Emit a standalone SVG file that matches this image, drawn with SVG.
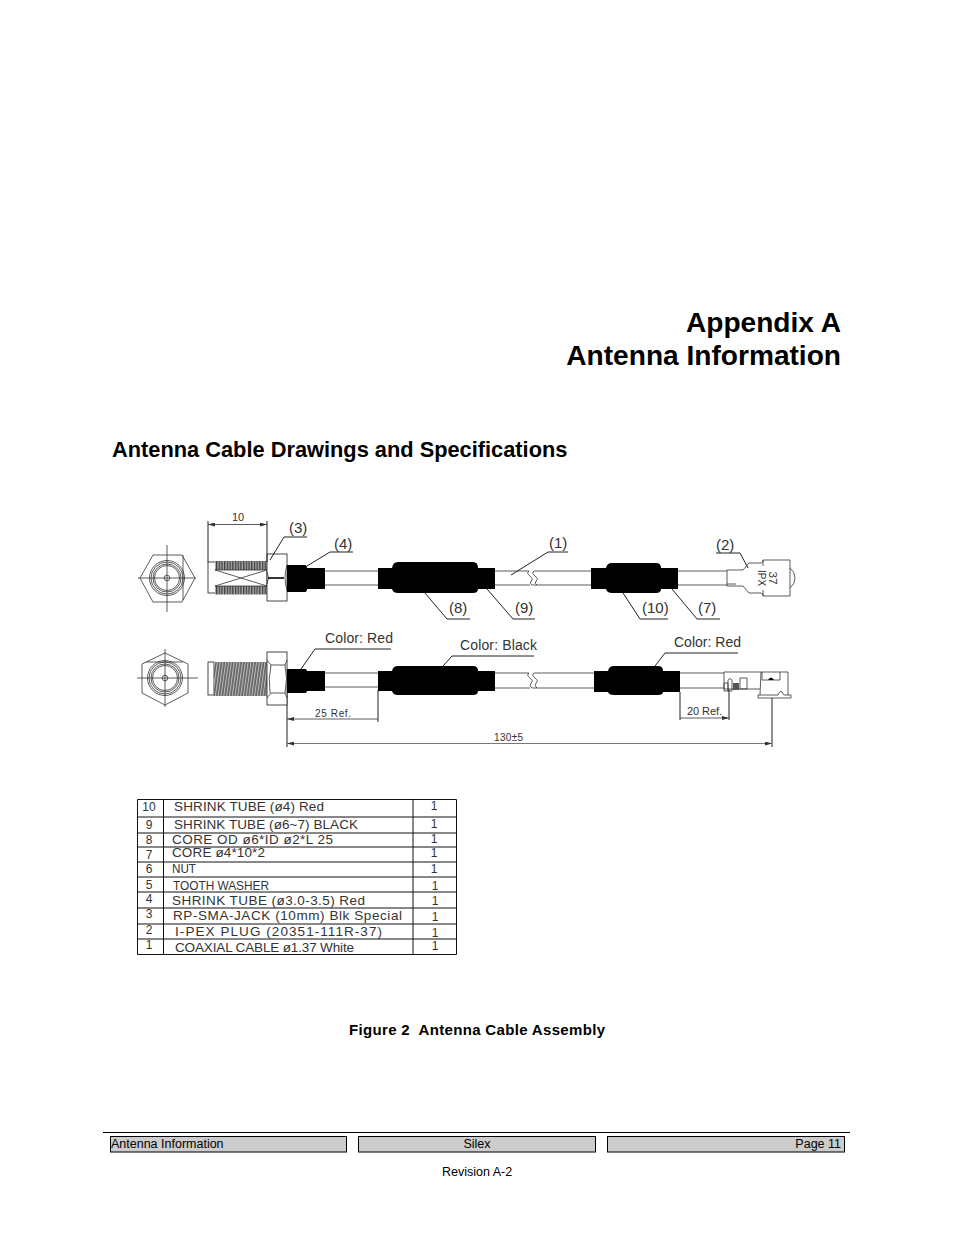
<svg xmlns="http://www.w3.org/2000/svg" width="954" height="1235" viewBox="0 0 954 1235">
<style>
text{font-family:"Liberation Sans",Arial,sans-serif;fill:#000}
.h1{font-size:28.100px;font-weight:bold;text-anchor:end}
.h2{font-size:21.800px;font-weight:bold}
.cap{font-size:15px;font-weight:bold}
.ft{font-size:12.500px}
.c{text-anchor:middle}
.e{text-anchor:end}
.cad{font-size:15px;fill:#333}
.col{font-size:14px;fill:#333}
.sm{font-size:10px;fill:#333}
.n{font-size:12px;fill:#333;text-anchor:middle}
.tb{font-size:13.500px;fill:#333}
.l{fill:none;stroke:#222;stroke-width:1}
.t{fill:none;stroke:#333;stroke-width:.8}
.w{fill:#fff;stroke:#333;stroke-width:.9}
.k{fill:#000;stroke:none}
.g{fill:#ccc;stroke:#000;stroke-width:1}
.d{fill:none;stroke:#333;stroke-width:.8;marker-start:url(#as);marker-end:url(#ae)}
.row{stroke:#111;stroke-width:1;fill:none}
</style>
<defs>
<marker id="ae" markerWidth="8" markerHeight="4" refX="7" refY="2" orient="auto" markerUnits="userSpaceOnUse"><path d="M0 0L7 2L0 4z" fill="#333"/></marker>
<marker id="as" markerWidth="8" markerHeight="4" refX="0" refY="2" orient="auto" markerUnits="userSpaceOnUse"><path d="M7 0L0 2L7 4z" fill="#333"/></marker>
<pattern id="th" width="2.700" height="40" patternUnits="userSpaceOnUse"><rect width="2.700" height="40" fill="#aaa"/><path d="M0.700 0V40" stroke="#333" stroke-width="1.200"/></pattern>
<pattern id="th2" width="2.800" height="40" patternUnits="userSpaceOnUse" patternTransform="skewX(-8)"><rect width="2.800" height="40" fill="#bbb"/><path d="M1 0V40" stroke="#333" stroke-width="1.100"/></pattern>
</defs>

<g id="headings">
<text class="h1" x="841" y="332">Appendix A</text>
<text class="h1" x="841" y="365">Antenna Information</text>
<text class="h2" x="112" y="457">Antenna Cable Drawings and Specifications</text>
</g>

<g id="top-front-view">
<path class="t" d="M140 578L153 555H182L195 578L182 602H153Z"/>
<circle class="t" cx="167" cy="578" r="17.500"/><circle class="t" cx="167" cy="578" r="16"/><circle class="t" cx="167" cy="578" r="14"/><circle class="t" cx="167" cy="578" r="12.500"/><circle class="t" cx="167" cy="578" r="2.800"/>
<path class="t" d="M167 545V612M138 578H196M183 555V600"/>
</g>

<g id="top-connector">
<rect class="w" x="208" y="562" width="59" height="31"/>
<rect x="215" y="561" width="52" height="9" fill="url(#th)"/>
<rect x="215" y="586" width="52" height="8.500" fill="url(#th)"/>
<path class="t" d="M215 570L267 586M215 586L267 570M215 570H267M215 586H267"/>
<rect class="w" x="267" y="554" width="20" height="47"/>
<path class="t" d="M267 572Q270 578 267 584M287 565Q283 578 287 590"/>
<path d="M268 578H284" stroke="#000" stroke-width="1.600"/>
</g>

<g id="top-cable">
<path class="k" d="M287 565H305Q307 565 307 568H325V589H307Q307 592 305 592H287Z"/>
<path class="t" d="M325 571H378M325 585H378"/>
<path class="t" d="M495 571H529Q526 573 530 576Q534 579 531 581Q529 584 532 585H591M495 585H530M534 571Q531 573 535 576Q539 579 536 581Q534 584 537 585M534 571H591"/>
<path class="k" d="M378 568H392Q393 562 398 562H473Q478 562 478 568H495V589H478Q478 593 473 593H398Q393 593 392 589H378Z"/>
<path class="k" d="M591 568H606Q607 563 612 563H656Q661 563 661 568H678V589H661Q661 593 656 593H612Q607 593 606 589H591Z"/>
<path class="t" d="M678 571H727M678 585H727"/>
</g>

<g id="top-plug">
<path class="t" d="M727 570V586M727 570H743L749 563H761Q764 562 763 560H790V596H763Q764 594 761 593H749L743 586H727M727 584H736M763 560V566M763 590V596M790 568Q795 572 795 578Q795 584 790 588"/>
<text class="sm" transform="translate(769 578) rotate(90)" text-anchor="middle" textLength="13" lengthAdjust="spacingAndGlyphs" style="font-size:11px">37</text>
<text class="sm" transform="translate(758 578) rotate(90)" text-anchor="middle" textLength="16" lengthAdjust="spacingAndGlyphs" style="font-size:11px">IPX</text>
</g>

<g id="connectors">
<path class="l" d="M208 562V521M267 562V521"/>
<path class="d" d="M208 524.500H267"/>
<path class="l" d="M270 560L284 537H307M307 566L330 552H353M425 593L447 619H470M487 589L513 619H535M511 575L548 552H568M623 593L640 619H668M672 589L697 619H720M716 553H740L748 568"/>
<path class="l" d="M301 669L315 649H391M443 666L452 656H534M655 666L665 653H738"/>
<path class="l" d="M287 693V747M378 690V722M680 692V720M729 689V720M772 698V747"/>
<path class="d" d="M287 719H378M680 718H729"/>
<path class="d" d="M287 743.500H772" style="stroke-width:1.200;stroke:#777"/>
</g>

<g id="bottom-front-view">
<path class="t" d="M165 653L188 664V693L165 705L142 693V664Z"/>
<circle class="t" cx="165" cy="678" r="17.500"/><circle class="t" cx="165" cy="678" r="16"/><circle class="t" cx="165" cy="678" r="14"/><circle class="t" cx="165" cy="678" r="12.500"/><circle class="t" cx="165" cy="678" r="2.800"/>
<path class="t" d="M165 649V707M137 678H198M146 662H183"/>
</g>

<g id="bottom-connector">
<rect class="w" x="208" y="662" width="6" height="33"/>
<rect x="214" y="662" width="53" height="34" fill="url(#th2)"/>
<rect class="w" x="267" y="652" width="20" height="53"/>
<path class="t" d="M267 660L271 665H285L287 660M271 665Q268 678 270 693M285 665Q288 678 285 693M267 698L271 693H285L287 698"/>
</g>

<g id="bottom-cable">
<path class="k" d="M287 669H305Q307 669 307 671H325V691H307Q307 693 305 693H287Z"/>
<path class="t" d="M325 673H378M325 687H378"/>
<path class="t" d="M495 673H529Q526 675 530 678Q534 681 531 683Q529 686 532 688H594M495 688H530M534 673Q531 675 535 678Q539 681 536 683Q534 686 537 688M534 673H594"/>
<path class="k" d="M378 671H392Q393 666 398 666H473Q478 666 478 671H495V691H478Q478 695 473 695H398Q393 695 392 691H378Z"/>
<path class="k" d="M594 671H608Q609 666 614 666H658Q663 666 663 671H680V692H663Q663 695 658 695H614Q609 695 608 692H594Z"/>
<path class="t" d="M680 673H724M680 688H724"/>
</g>

<g id="bottom-plug">
<path class="t" d="M724 672H788V695M724 672V689H760M761 672L760 695M762 672V680H780V672M758 695H778Q780 690 782 692Q784 696 785 695H791V698H758Z"/>
<path class="t" d="M724 683H728V691H724ZM728 680Q730 677 732 680V691H728ZM740 678H747V689H740Z"/>
<rect x="733" y="683" width="6" height="7" fill="#555"/>
<path class="k" d="M768 680Q771 675 774 680Z"/>
</g>

<g id="drawing-labels">
<text class="sm c" x="238" y="521" style="font-size:11px">10</text>
<text class="cad" x="289" y="533">(3)</text>
<text class="cad" x="334" y="549">(4)</text>
<text class="cad" x="449" y="613">(8)</text>
<text class="cad" x="515" y="613">(9)</text>
<text class="cad" x="549" y="548">(1)</text>
<text class="cad" x="642" y="613">(10)</text>
<text class="cad" x="698" y="613">(7)</text>
<text class="cad" x="716" y="550">(2)</text>
<text class="col" x="325" y="643" textLength="68">Color:  Red</text>
<text class="col" x="460" y="650" textLength="77">Color:  Black</text>
<text class="col" x="674" y="647" textLength="67">Color:  Red</text>
<text class="sm" x="315" y="717" textLength="36">25 Ref.</text>
<text class="sm" x="687" y="715" textLength="35" style="font-size:11px">20 Ref.</text>
<text class="sm" x="494" y="741" textLength="29">130±5</text>
</g>

<g id="parts-table">
<path class="row" d="M137.500 799.500H456.500V954.500H137.500ZM163.500 799.500V954.500M413 799.500V954.500M137 817H457M137 833H457M137 847H457M137 862H457M137 877H457M137 892H457M137 908H457M137 924H457M137 939H457"/>
<g>
<text class="n" x="149" y="811">10</text><text class="tb" x="174" y="811" textLength="150">SHRINK TUBE (ø4) Red</text><text class="n" x="434" y="810">1</text>
<text class="n" x="149" y="829">9</text><text class="tb" x="174" y="829" textLength="184">SHRINK TUBE (ø6~7) BLACK</text><text class="n" x="434" y="828">1</text>
<text class="n" x="149" y="844">8</text><text class="tb" x="172" y="844" textLength="161">CORE OD ø6*ID ø2*L 25</text><text class="n" x="434" y="843">1</text>
<text class="n" x="149" y="859">7</text><text class="tb" x="172" y="857" textLength="93">CORE ø4*10*2</text><text class="n" x="434" y="857">1</text>
<text class="n" x="149" y="873">6</text><text class="tb" x="172" y="873" textLength="24" lengthAdjust="spacingAndGlyphs">NUT</text><text class="n" x="434" y="873">1</text>
<text class="n" x="149" y="889">5</text><text class="tb" x="173" y="890" textLength="96" lengthAdjust="spacingAndGlyphs">TOOTH WASHER</text><text class="n" x="435" y="890">1</text>
<text class="n" x="149" y="903">4</text><text class="tb" x="172" y="905" textLength="193">SHRINK TUBE (ø3.0-3.5) Red</text><text class="n" x="435" y="905">1</text>
<text class="n" x="149" y="918">3</text><text class="tb" x="173" y="920" textLength="229">RP-SMA-JACK (10mm) Blk Special</text><text class="n" x="435" y="921">1</text>
<text class="n" x="149" y="934">2</text><text class="tb" x="175" y="936" textLength="207">I-PEX PLUG (20351-111R-37)</text><text class="n" x="435" y="937">1</text>
<text class="n" x="149" y="949">1</text><text class="tb" x="175" y="952" textLength="179">COAXIAL CABLE ø1.37 White</text><text class="n" x="435" y="950">1</text>
</g>
</g>

<text class="cap" x="349" y="1035" textLength="256" style="white-space:pre">Figure 2  Antenna Cable Assembly</text>

<g id="footer">
<path d="M103 1132.500H850" stroke="#000" stroke-width="1"/>
<rect class="g" x="110.500" y="1136.500" width="236" height="15.500"/>
<rect class="g" x="358.500" y="1136.500" width="237" height="15.500"/>
<rect class="g" x="607.500" y="1136.500" width="237" height="15.500"/>
<text class="ft" x="111" y="1148">Antenna Information</text>
<text class="ft c" x="477" y="1148">Silex</text>
<text class="ft e" x="841" y="1148">Page 11</text>
<text class="ft c" x="477" y="1176">Revision A-2</text>
</g>
</svg>
